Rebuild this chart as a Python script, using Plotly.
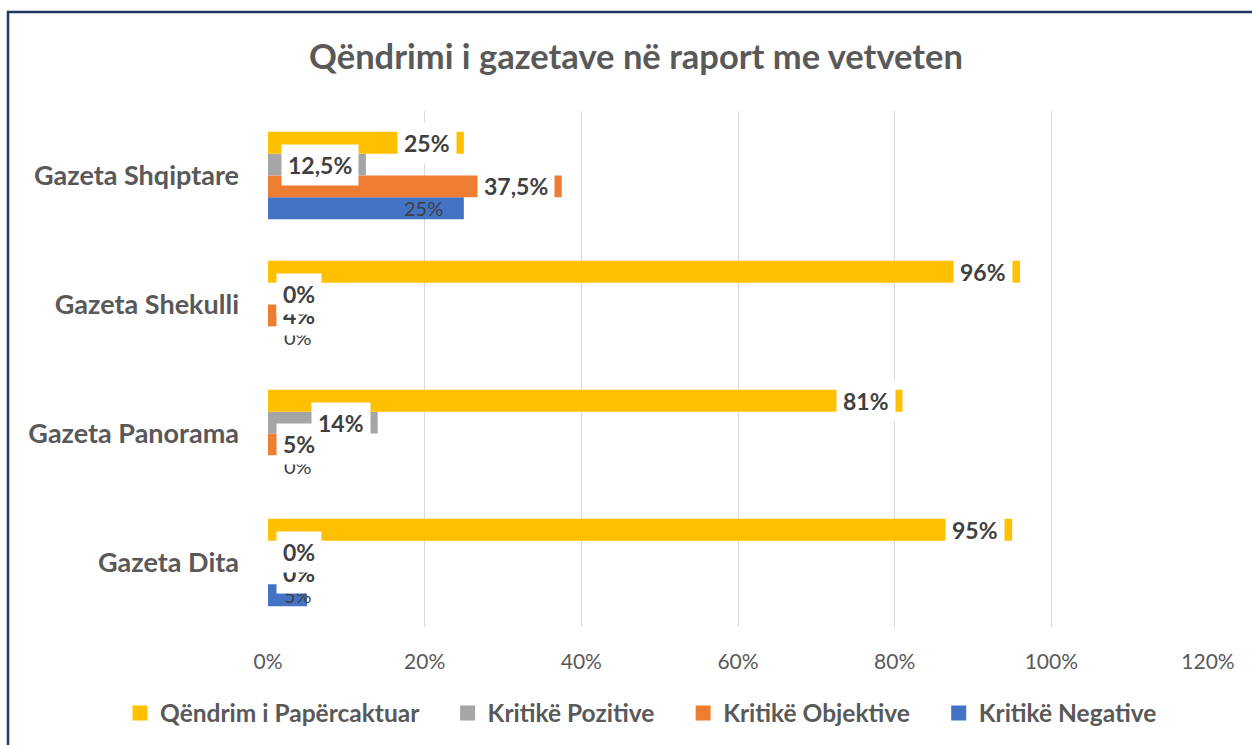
import plotly.graph_objects as go

categories = ["Gazeta Dita", "Gazeta Panorama", "Gazeta Shekulli", "Gazeta Shqiptare"]
series_names = ["Qëndrim i Papërcaktuar", "Kritikë Pozitive", "Kritikë Objektive", "Kritikë Negative"]
papercaktuar = [95, 81, 96, 25]
pozitive = [0, 14, 0, 12.5]
objektive = [0, 5, 4, 37.5]
negative = [5, 0, 0, 25]
x_ticks = [0, 20, 40, 60, 80, 100, 120]
x_tick_labels = ["0%", "20%", "40%", "60%", "80%", "100%", "120%"]

colors = {"Qëndrim i Papërcaktuar": "#FFC000", "Kritikë Pozitive": "#A5A5A5",
          "Kritikë Objektive": "#ED7D31", "Kritikë Negative": "#4472C4"}
values = {"Qëndrim i Papërcaktuar": papercaktuar, "Kritikë Pozitive": pozitive,
          "Kritikë Objektive": objektive, "Kritikë Negative": negative}

FONT = "Lato"
W, H = 1252, 745
ML, MR, MT, MB = 268, 44, 111, 118
BARGAP = 0.323

fig = go.Figure()
draw_order = list(reversed(series_names))
for name in draw_order:
    fig.add_trace(go.Bar(
        y=categories, x=values[name], name=name, orientation="h",
        marker=dict(color=colors[name], line=dict(width=0)),
        hoverinfo="skip", showlegend=False,
    ))
# legend entries (square markers like the reference)
for name in series_names:
    fig.add_trace(go.Scatter(
        x=[None], y=[None], mode="markers", name=name + "\u00a0\u00a0\u00a0\u00a0",
        marker=dict(symbol="square", size=15, color=colors[name]),
        hoverinfo="skip", showlegend=True,
    ))

def fmt(v):
    return ("%g" % v).replace(".", ",") + "%"

group = 1 - BARGAP
bw = group / len(draw_order)
annotations = []
for i, name in enumerate(draw_order):
    off = -group / 2 + bw / 2 + i * bw
    for ci, cat in enumerate(categories):
        v = values[name][ci]
        yv = ci + off
        if name == "Kritikë Negative":
            f = dict(family=FONT, size=20, color="#404040")
            if v >= 10:
                annotations.append(dict(x=v, y=yv, xref="x", yref="y", text=fmt(v),
                                        showarrow=False, xanchor="right", xshift=-19, font=f))
            else:
                annotations.append(dict(x=0, y=yv, xref="x", yref="y", text=fmt(v),
                                        showarrow=False, xanchor="left", xshift=14, font=f))
        else:
            common = dict(y=yv, xref="x", yref="y", text=fmt(v),
                          showarrow=False, bgcolor="white", borderpad=6,
                          font=dict(family=FONT, size=23, color="#404040", weight="bold"))
            if v >= 10:
                annotations.append(dict(x=v, xanchor="right", xshift=-7, **common))
            else:
                annotations.append(dict(x=0, xanchor="left", xshift=8, **common))

px2x = lambda p: (p - ML) / (W - ML - MR)
py2y = lambda p: (H - MB - p) / (H - MT - MB)
shapes = [dict(type="path", xref="paper", yref="paper",
               path=f"M {px2x(8)} {py2y(760)} L {px2x(8)} {py2y(12)} L {px2x(1262)} {py2y(12)}",
               line=dict(color="#203864", width=2.5))]

fig.update_layout(
    width=W, height=H,
    margin=dict(l=ML, r=MR, t=MT, b=MB, pad=0, autoexpand=False),
    paper_bgcolor="white", plot_bgcolor="white",
    barmode="group", bargap=BARGAP, bargroupgap=0,
    title=dict(text="Qëndrimi i gazetave në raport me vetveten",
               x=px2x(636), xref="paper", xanchor="center",
               y=1 - 57 / H, yanchor="middle",
               font=dict(family=FONT, size=34.5, color="#595959", weight="bold")),
    xaxis=dict(range=[0, 120], tickvals=x_ticks, ticktext=x_tick_labels,
               showgrid=True, gridcolor="#D9D9D9", gridwidth=1.3,
               zeroline=False, showline=False, ticks="",
               ticklabelstandoff=20,
               tickfont=dict(family=FONT, size=21, color="#595959")),
    yaxis=dict(categoryorder="array", categoryarray=categories,
               showgrid=False, zeroline=False, showline=False, ticks="",
               ticklabelstandoff=28,
               tickfont=dict(family=FONT, size=27, color="#595959", weight="bold")),
    legend=dict(orientation="h", traceorder="normal",
                xref="paper", yref="paper",
                x=px2x(120), xanchor="left", y=py2y(713), yanchor="middle",
                font=dict(family=FONT, size=24.5, color="#595959", weight="bold"),
                itemwidth=30),
    showlegend=True,
    annotations=annotations,
    shapes=shapes,
)

fig.write_html("out.html", config={"displayModeBar": False},
               post_script="document.body.style.margin='0';document.body.style.overflow='hidden';")
